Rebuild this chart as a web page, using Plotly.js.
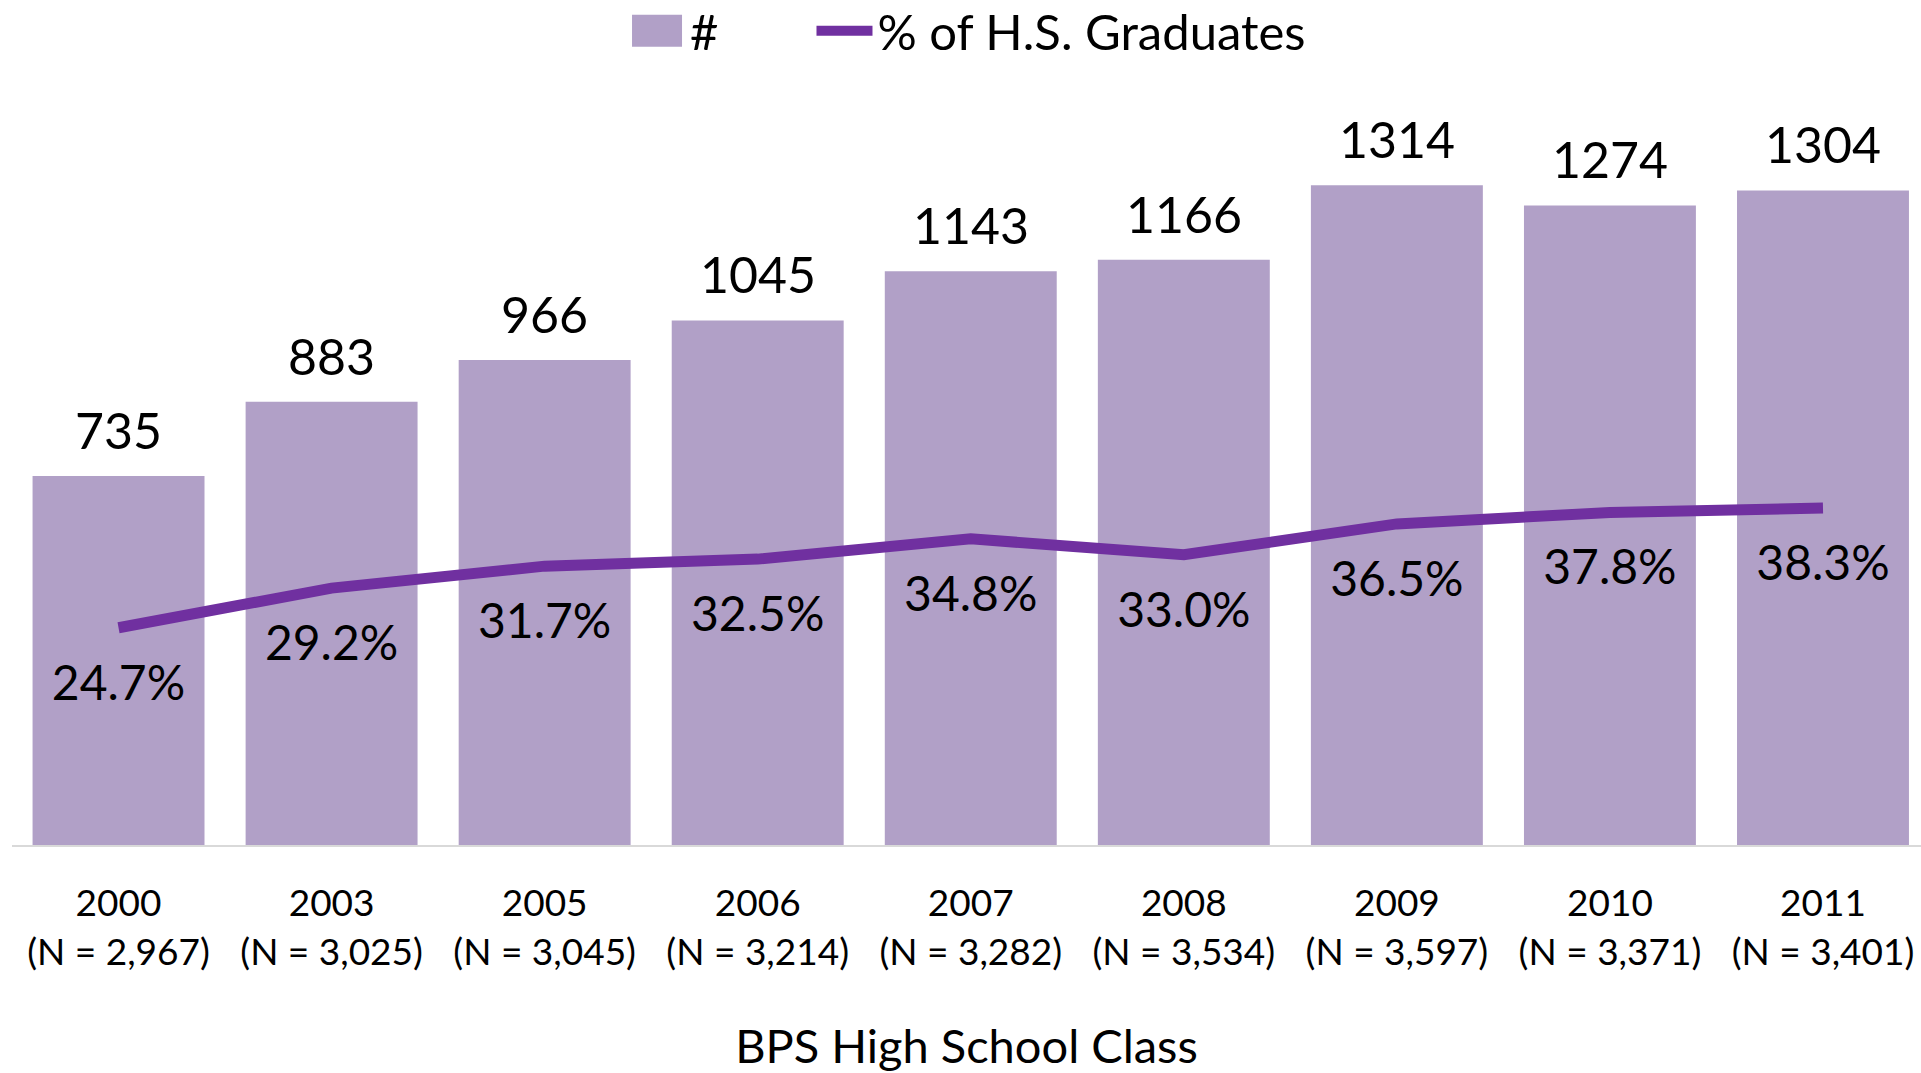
<!DOCTYPE html>
<html>
<head>
<meta charset="utf-8">
<script src="https://cdn.plot.ly/plotly-3.0.1.min.js"></script>
<style>html,body{margin:0;padding:0;background:#fff;}#chart{width:1921px;height:1073px;}</style>
</head>
<body>
<div id="chart"></div>
<script>
const years = ["2000","2003","2005","2006","2007","2008","2009","2010","2011"];
const nCounts = ["2,967","3,025","3,045","3,214","3,282","3,534","3,597","3,371","3,401"];
const collegeCount = [735, 883, 966, 1045, 1143, 1166, 1314, 1274, 1304];
const pctGraduates = [24.7, 29.2, 31.7, 32.5, 34.8, 33.0, 36.5, 37.8, 38.3];

const tickText = years.map((y, i) => y + "<br>(N = " + nCounts[i] + ")");
const FONT = "Lato, 'Noto Sans', sans-serif";

const barTrace = {
  type: "bar",
  name: "#",
  legend: "legend",
  x: years,
  y: collegeCount,
  marker: {color: "#B1A0C7"},
  hoverinfo: "x+y"
};

const lineTrace = {
  type: "scatter",
  mode: "lines+markers+text",
  name: "% of H.S. Graduates",
  legend: "legend2",
  x: years,
  y: pctGraduates,
  yaxis: "y2",
  line: {color: "#7030A0", width: 11},
  marker: {size: 56, color: "rgba(0,0,0,0)"},
  text: pctGraduates.map(v => v.toFixed(1) + "%"),
  textposition: "bottom center",
  textfont: {family: FONT, size: 48, color: "#000"},
  cliponaxis: false
};

const barLabels = collegeCount.map((v, i) => ({
  x: i,
  y: v,
  xref: "x",
  yref: "y",
  text: String(v),
  showarrow: false,
  yanchor: "bottom",
  yshift: 14,
  font: {family: FONT, size: 50, color: "#000"}
}));

const legendCommon = {
  orientation: "h",
  xanchor: "left",
  yref: "container",
  y: 0.9711, yanchor: "middle",
  font: {family: FONT, size: 49, color: "#000"},
  itemwidth: 56,
  bgcolor: "rgba(0,0,0,0)"
};

const layout = {
  width: 1921,
  height: 1073,
  margin: {l: 12, r: 0, t: 92, b: 228, autoexpand: false},
  paper_bgcolor: "#fff",
  plot_bgcolor: "#fff",
  font: {family: FONT, color: "#000"},
  bargap: 0.193,
  showlegend: true,
  annotations: barLabels,
  legend: Object.assign({}, legendCommon, {x: 0.3206}),
  legend2: Object.assign({}, legendCommon, {x: 0.4188}),
  xaxis: {
    type: "category",
    range: [-0.5, 8.46],
    tickmode: "array",
    tickvals: years,
    ticktext: tickText,
    tickfont: {family: FONT, size: 37, color: "#000"},
    ticks: "",
    ticklabelstandoff: 25,
    showline: true,
    linecolor: "#D9D9D9",
    linewidth: 2,
    showgrid: false,
    zeroline: false,
    automargin: false,
    title: {text: "BPS High School Class", font: {family: FONT, size: 47, color: "#000"}, standoff: 66}
  },
  yaxis: {
    range: [0, 1500],
    visible: false,
    showgrid: false,
    zeroline: false
  },
  yaxis2: {
    range: [0, 85.6],
    overlaying: "y",
    side: "right",
    visible: false,
    showgrid: false,
    zeroline: false
  }
};

function enlargeBarLegendSymbol() {
  const items = document.querySelectorAll("#chart g.legend .traces");
  if (!items.length) return;
  const paths = items[0].querySelectorAll(".legendpoints path");
  paths.forEach(p => p.setAttribute("d", "M25,16H-25V-16H25Z"));
}

Plotly.newPlot("chart", [barTrace, lineTrace], layout, {displayModeBar: false, responsive: false})
  .then(gd => { enlargeBarLegendSymbol(); gd.on("plotly_afterplot", enlargeBarLegendSymbol); });
</script>
</body>
</html>
